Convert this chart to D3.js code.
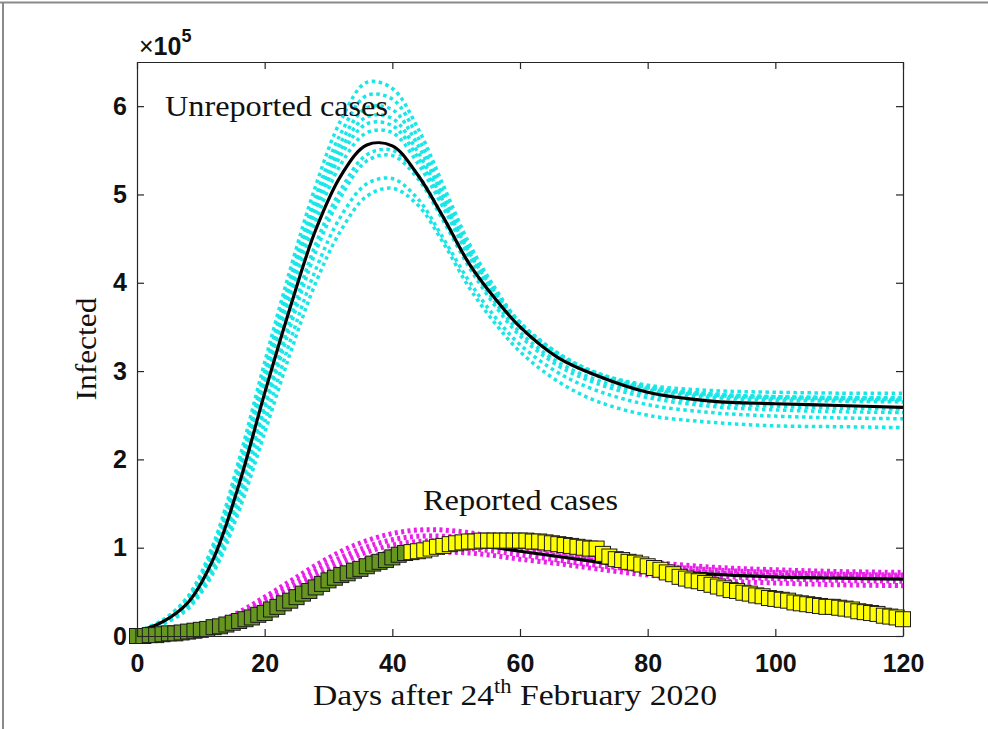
<!DOCTYPE html>
<html>
<head>
<meta charset="utf-8">
<script src="https://cdn.jsdelivr.net/npm/d3@7"></script>
<style>
  body { margin: 0; background: #fff; }
  svg { display: block; }
</style>
</head>
<body>
<svg id="chart" width="988" height="729"></svg>
<script>
// days the model curves are sampled at
var modelDays = [0,4,8,12,16,20,24,28,32,36,40,44,48,52,56,60,66,72,80,90,100,110,120];

// unreported cases, best fit (x1e5)
var unreportedFit = [0.05,0.16,0.38,0.88,1.72,2.75,3.72,4.6,5.22,5.56,5.55,5.22,4.74,4.22,3.83,3.5,3.15,2.95,2.76,2.66,2.63,2.61,2.59];

// unreported cases, other runs (x1e5)
var unreportedRuns = [
  [0.05,0.18,0.45,1.05,2.0,3.1,4.15,5.1,5.85,6.27,6.2,5.75,5.1,4.45,3.95,3.55,3.2,2.98,2.84,2.78,2.76,2.75,2.75],
  [0.05,0.17,0.42,1.0,1.92,3.0,4.05,4.98,5.7,6.12,6.08,5.65,5.02,4.4,3.92,3.55,3.2,2.98,2.82,2.74,2.71,2.7,2.7],
  [0.05,0.17,0.42,0.98,1.9,2.97,4.0,4.92,5.6,5.98,5.96,5.56,4.97,4.37,3.91,3.54,3.19,2.97,2.82,2.74,2.71,2.7,2.69],
  [0.05,0.17,0.41,0.96,1.87,2.93,3.95,4.86,5.52,5.88,5.86,5.48,4.92,4.35,3.9,3.53,3.18,2.97,2.81,2.73,2.7,2.69,2.68],
  [0.05,0.17,0.41,0.95,1.85,2.9,3.9,4.8,5.45,5.8,5.78,5.42,4.88,4.32,3.88,3.52,3.17,2.96,2.8,2.72,2.69,2.68,2.67],
  [0.05,0.16,0.4,0.92,1.8,2.84,3.82,4.7,5.35,5.7,5.7,5.35,4.85,4.3,3.86,3.5,3.16,2.95,2.78,2.7,2.67,2.66,2.65],
  [0.04,0.15,0.36,0.84,1.64,2.62,3.58,4.44,5.06,5.45,5.5,5.22,4.74,4.22,3.79,3.44,3.1,2.9,2.74,2.64,2.6,2.58,2.57],
  [0.04,0.14,0.34,0.8,1.58,2.55,3.5,4.35,4.98,5.38,5.44,5.18,4.7,4.18,3.75,3.4,3.06,2.86,2.7,2.6,2.56,2.54,2.53],
  [0.04,0.14,0.33,0.76,1.5,2.42,3.34,4.15,4.76,5.12,5.18,4.95,4.5,4.02,3.62,3.3,2.98,2.78,2.62,2.53,2.49,2.47,2.46],
  [0.04,0.13,0.31,0.72,1.42,2.3,3.2,4.0,4.6,4.98,5.07,4.88,4.45,3.95,3.55,3.22,2.88,2.66,2.5,2.42,2.38,2.37,2.36]
];

// reported cases, best fit (x1e5)
var reportedFit = [0.0,0.02,0.04,0.09,0.19,0.3,0.45,0.6,0.73,0.85,0.94,1.0,1.03,1.02,1.0,0.96,0.9,0.84,0.76,0.7,0.67,0.655,0.645];

// reported cases, other runs (x1e5)
var reportedRuns = [
  [0,0.02,0.06,0.14,0.27,0.44,0.62,0.8,0.96,1.08,1.16,1.2,1.2,1.17,1.12,1.06,0.98,0.91,0.84,0.78,0.75,0.73,0.72],
  [0,0.02,0.05,0.12,0.24,0.4,0.57,0.74,0.89,1.01,1.09,1.13,1.13,1.11,1.07,1.02,0.95,0.88,0.81,0.75,0.72,0.7,0.69],
  [0,0.02,0.05,0.11,0.22,0.36,0.52,0.68,0.83,0.95,1.03,1.07,1.08,1.06,1.02,0.98,0.91,0.85,0.78,0.72,0.69,0.68,0.67],
  [0,0.02,0.04,0.1,0.2,0.33,0.48,0.63,0.77,0.88,0.96,1.0,1.01,0.99,0.96,0.92,0.86,0.8,0.74,0.68,0.65,0.63,0.62],
  [0,0.01,0.04,0.09,0.18,0.3,0.44,0.58,0.71,0.82,0.9,0.94,0.95,0.94,0.91,0.87,0.82,0.76,0.69,0.63,0.6,0.58,0.57]
];

// reported data, one value per day 0..120 (x1e5)
var reportedData = [
  0.00,0.00,0.01,0.01,0.02,0.03,0.03,0.04,0.05,0.06,
  0.07,0.08,0.10,0.11,0.13,0.15,0.17,0.19,0.21,0.24,
  0.26,0.30,0.33,0.37,0.40,0.44,0.48,0.51,0.55,0.59,
  0.63,0.66,0.69,0.71,0.74,0.76,0.79,0.82,0.84,0.86,
  0.89,0.92,0.94,0.95,0.96,0.97,0.99,1.01,1.02,1.04,
  1.05,1.06,1.07,1.07,1.08,1.08,1.08,1.08,1.08,1.08,
  1.08,1.08,1.07,1.07,1.06,1.05,1.04,1.03,1.02,1.01,
  1.00,0.99,0.99,0.93,0.90,0.87,0.86,0.84,0.83,0.81,
  0.79,0.77,0.75,0.72,0.70,0.67,0.65,0.63,0.62,0.60,
  0.58,0.56,0.54,0.52,0.51,0.49,0.48,0.46,0.45,0.43,
  0.42,0.41,0.40,0.38,0.37,0.36,0.35,0.34,0.33,0.33,
  0.32,0.31,0.30,0.28,0.27,0.26,0.25,0.23,0.22,0.21,
  0.19
];
var lastGreenDay = 42;

var xTicks = [0,20,40,60,80,100,120];
var yTicks = [0,1,2,3,4,5,6];

var svg = d3.select("#chart");
var plotLeft = 137, plotRight = 903, plotTop = 62, plotBottom = 636;

var x = d3.scaleLinear().domain([0,120]).range([plotLeft,plotRight]);
var y = d3.scaleLinear().domain([0,6.5]).range([plotBottom,plotTop]);

// figure frame (top and left edge)
svg.append("line").attr("x1",0).attr("x2",988).attr("y1",2.5).attr("y2",2.5)
  .attr("stroke","#8a8a8a").attr("stroke-width",2);
svg.append("line").attr("x1",3).attr("x2",3).attr("y1",2).attr("y2",729)
  .attr("stroke","#8a8a8a").attr("stroke-width",2);

var line = d3.line()
  .x(function(d, i) { return x(modelDays[i]); })
  .y(function(d) { return y(d); })
  .curve(d3.curveCatmullRom.alpha(0.5));

var plot = svg.append("g");

// cyan runs
plot.selectAll(".urun").data(unreportedRuns).enter().append("path")
  .attr("class","urun")
  .attr("d", line)
  .attr("fill","none")
  .attr("stroke","#19e6e6")
  .attr("stroke-width",3.5)
  .attr("stroke-dasharray","3.5,3.5");

plot.append("path").datum(unreportedFit)
  .attr("d", line)
  .attr("fill","none")
  .attr("stroke","#000")
  .attr("stroke-width",3.2);

// magenta runs
plot.selectAll(".rrun").data(reportedRuns).enter().append("path")
  .attr("class","rrun")
  .attr("d", line)
  .attr("fill","none")
  .attr("stroke","#ea20ea")
  .attr("stroke-width",5)
  .attr("stroke-dasharray","3,3.4");

plot.append("path").datum(reportedFit)
  .attr("d", line)
  .attr("fill","none")
  .attr("stroke","#000")
  .attr("stroke-width",3.2);

// data squares
var ms = 15;
plot.selectAll(".dm").data(reportedData).enter().append("rect")
  .attr("class","dm")
  .attr("x", function(d, i) { return x(i) - ms/2; })
  .attr("y", function(d) { return y(d) - ms/2; })
  .attr("width", ms)
  .attr("height", ms)
  .attr("fill", function(d, i) { return i <= lastGreenDay ? "#66961f" : "#ffff00"; })
  .attr("stroke","#1a1a1a")
  .attr("stroke-width",1);

// axes, box on with inward ticks
var axisColor = "#262626";
var gx = svg.append("g").attr("transform","translate(0,"+plotBottom+")")
  .call(d3.axisBottom(x).tickValues(xTicks).tickFormat(d3.format("d")).tickSize(-7).tickSizeOuter(0).tickPadding(18));
var gy = svg.append("g").attr("transform","translate("+plotLeft+",0)")
  .call(d3.axisLeft(y).tickValues(yTicks).tickFormat(d3.format("d")).tickSize(-7).tickSizeOuter(0).tickPadding(10));
var gt = svg.append("g").attr("transform","translate(0,"+plotTop+")")
  .call(d3.axisTop(x).tickValues(xTicks).tickSize(-7).tickSizeOuter(0).tickFormat(""));
var gr = svg.append("g").attr("transform","translate("+plotRight+",0)")
  .call(d3.axisRight(y).tickValues(yTicks).tickSize(-7).tickSizeOuter(0).tickFormat(""));

[gx,gy,gt,gr].forEach(function(g) {
  g.selectAll("path,line").attr("stroke",axisColor).attr("stroke-width",1.2);
  g.selectAll("text")
    .attr("fill","#111")
    .style("font-family","'Liberation Sans', Arial, sans-serif")
    .style("font-weight","bold")
    .style("font-size","25px");
});

// exponent
var expo = svg.append("text").attr("x",139).attr("y",55)
  .style("font-family","'Liberation Sans', Arial, sans-serif")
  .attr("fill","#111");
expo.append("tspan").text("\u00d7").style("font-size","25px");
expo.append("tspan").text("10").style("font-size","25px").style("font-weight","bold");
expo.append("tspan").text("5").attr("dy",-13).style("font-size","18px").style("font-weight","bold");

var serif = "'Liberation Serif', 'DejaVu Serif', serif";

svg.append("text").attr("x",165).attr("y",116)
  .attr("textLength",223).attr("lengthAdjust","spacingAndGlyphs")
  .style("font-family",serif).style("font-size","30px").attr("fill","#111")
  .text("Unreported cases");

svg.append("text").attr("x",423).attr("y",510)
  .attr("textLength",195).attr("lengthAdjust","spacingAndGlyphs")
  .style("font-family",serif).style("font-size","30px").attr("fill","#111")
  .text("Reported cases");

svg.append("text")
  .attr("transform","translate(96,349) rotate(-90)")
  .attr("text-anchor","middle")
  .attr("textLength",103).attr("lengthAdjust","spacingAndGlyphs")
  .style("font-family",serif).style("font-size","30px").attr("fill","#111")
  .text("Infected");

var xl = svg.append("text").attr("x",313).attr("y",705)
  .attr("textLength",404).attr("lengthAdjust","spacingAndGlyphs")
  .style("font-family",serif).style("font-size","30px").attr("fill","#111");
xl.append("tspan").text("Days after 24");
xl.append("tspan").text("th").attr("dy",-12).style("font-size","20px");
xl.append("tspan").text(" February 2020").attr("dy",12);
</script>
</body>
</html>
